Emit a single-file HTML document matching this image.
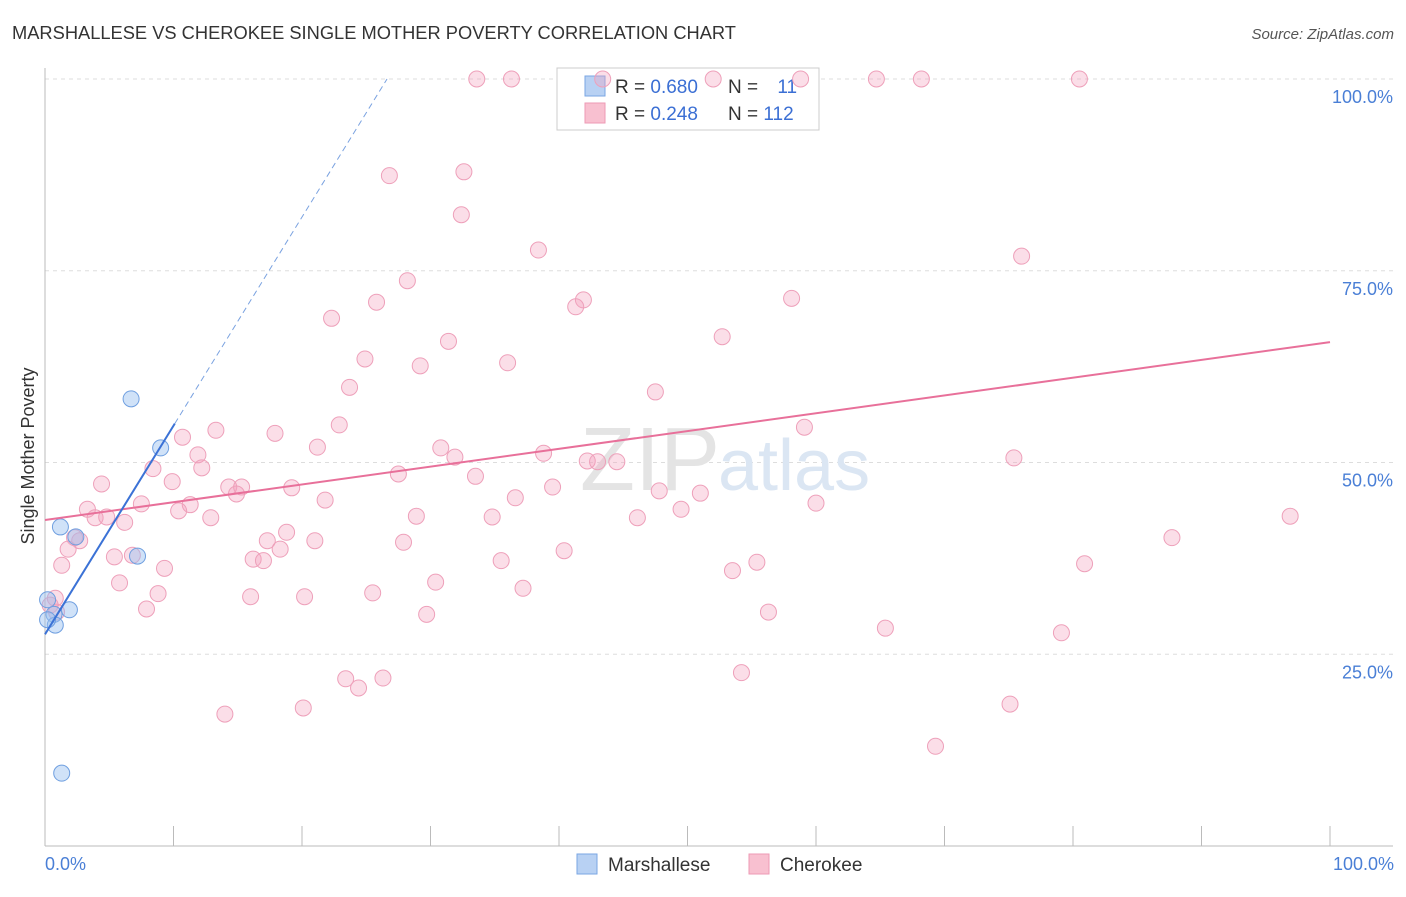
<!DOCTYPE html>
<html><head><meta charset="utf-8"><style>
body{margin:0;background:#fff;font-family:"Liberation Sans",sans-serif;}
svg text{font-family:"Liberation Sans",sans-serif;}
</style></head><body>
<svg id="chart" width="1406" height="892">
<text x="12" y="39" font-size="18.3" fill="#333">MARSHALLESE VS CHEROKEE SINGLE MOTHER POVERTY CORRELATION CHART</text>
<text x="1394" y="39" font-size="15" fill="#555" text-anchor="end" font-style="italic">Source: ZipAtlas.com</text>
<g id="grid"></g>
<text x="720" y="490" font-size="90" fill="#e4e4e4" text-anchor="end" font-family="Liberation Serif">ZIP</text>
<text x="718" y="490" font-size="72" fill="#dbe6f3">atlas</text>
<g>
<rect x="557" y="68" width="262" height="62" fill="#fff" stroke="#ccc"/>
<rect x="585" y="76" width="20" height="20" fill="#b8d1f3" stroke="#7aa6e3"/>
<rect x="585" y="103" width="20" height="20" fill="#f8c0d0" stroke="#ee9ab5"/>
<text x="615" y="93" font-size="19" fill="#333">R = <tspan fill="#3b6fd4">0.680</tspan></text>
<text x="728" y="93" font-size="19" fill="#333">N = <tspan fill="#3b6fd4" dx="14">11</tspan></text>
<text x="615" y="120" font-size="19" fill="#333">R = <tspan fill="#3b6fd4">0.248</tspan></text>
<text x="728" y="120" font-size="19" fill="#333">N = <tspan fill="#3b6fd4">112</tspan></text>
</g>
<g id="marks"></g>
<text transform="translate(34,456) rotate(-90)" font-size="18" fill="#333" text-anchor="middle">Single Mother Poverty</text>
<text x="45" y="870" font-size="18" fill="#4a7fd6">0.0%</text>
<text x="1394" y="870" font-size="18" fill="#4a7fd6" text-anchor="end">100.0%</text>
<g>
<rect x="577" y="854" width="20" height="20" fill="#b8d1f3" stroke="#7aa6e3"/>
<text x="608" y="871" font-size="19" fill="#333">Marshallese</text>
<rect x="749" y="854" width="20" height="20" fill="#f8c0d0" stroke="#ee9ab5"/>
<text x="780" y="871" font-size="19" fill="#333">Cherokee</text>
</g>
</svg>
<script>
const yTicks=[100,75,50,25];
const yTickLabels=["100.0%","75.0%","50.0%","25.0%"];
const xTicks=[0,10,20,30,40,50,60,70,80,90,100];
const cherokeeX=[33.6,36.3,43.4,52.0,58.8,64.7,68.2,80.5,26.8,32.6,32.4,38.4,76.0,28.2,41.9,41.3,25.8,58.1,22.3,31.4,52.7,24.9,29.2,36.0,23.7,47.5,22.9,13.3,10.7,17.9,21.2,30.8,31.9,38.8,59.1,8.4,11.9,12.2,9.9,4.4,14.3,15.3,14.9,19.2,21.8,27.5,33.5,42.2,43.0,44.5,75.4,39.5,36.6,47.8,51.0,60.0,7.5,11.3,10.4,3.3,3.9,4.8,6.2,12.9,28.9,34.8,46.1,49.5,96.9,2.7,2.3,1.8,5.4,6.8,9.3,1.3,16.2,17.0,17.3,18.8,18.3,21.0,27.9,35.5,40.4,53.5,55.4,80.9,87.7,5.8,8.8,7.9,16.0,20.2,25.5,30.4,37.2,29.7,56.3,65.4,79.1,0.8,0.4,0.9,23.4,24.4,26.3,54.2,75.1,14.0,20.1,69.3];
const cherokeeY=[100,100,100,100,100,100,100,100,87.4,87.9,82.3,77.7,76.9,73.7,71.2,70.3,70.9,71.4,68.8,65.8,66.4,63.5,62.6,63.0,59.8,59.2,54.9,54.2,53.3,53.8,52.0,51.9,50.7,51.2,54.6,49.2,51.0,49.3,47.5,47.2,46.8,46.8,45.9,46.7,45.1,48.5,48.2,50.2,50.1,50.1,50.6,46.8,45.4,46.3,46.0,44.7,44.6,44.5,43.7,43.9,42.8,42.9,42.2,42.8,43.0,42.9,42.8,43.9,43.0,39.8,40.2,38.7,37.7,37.9,36.2,36.6,37.4,37.2,39.8,40.9,38.7,39.8,39.6,37.2,38.5,35.9,37.0,36.8,40.2,34.3,32.9,30.9,32.5,32.5,33.0,34.4,33.6,30.2,30.5,28.4,27.8,32.3,31.4,30.5,21.8,20.6,21.9,22.6,18.5,17.2,18.0,13.0];
const marshX=[1.2,2.4,7.2,6.7,9.0,1.9,0.7,0.8,0.2,0.2,1.3];
const marshY=[41.6,40.3,37.8,58.3,51.9,30.8,30.2,28.8,32.1,29.5,9.5];
const pinkTrend=[42.5,65.7];
const blueTrend=[27.6,2.72];
const NS="http://www.w3.org/2000/svg";
const sx=v=>45+v*12.85, sy=v=>846-v*7.67;
function mk(t,a,parent){const e=document.createElementNS(NS,t);for(const k in a)e.setAttribute(k,a[k]);parent.appendChild(e);return e;}
const grid=document.getElementById('grid'), marks=document.getElementById('marks');
yTicks.forEach((t,i)=>{
 const l=mk('line',{x1:45,x2:1393,y1:sy(t),y2:sy(t),stroke:'#ddd','stroke-dasharray':'4,4'},grid);
 
 
 const tx=mk('text',{x:1393,y:sy(t)+24,'font-size':18,fill:'#4a7fd6','text-anchor':'end'},grid);
 tx.textContent=yTickLabels[i];
 
 
});
const ya=mk('line',{x1:45,x2:45,y1:68,y2:846,stroke:'#bbb'},grid);


const xa=mk('line',{x1:45,x2:1393,y1:846,y2:846,stroke:'#bbb'},grid);


xTicks.forEach(t=>{
 const l=mk('line',{x1:sx(t),x2:sx(t),y1:826,y2:846,stroke:'#bbb'},grid);
 
 
});
cherokeeX.forEach((x,i)=>{
 const c=mk('circle',{cx:sx(x),cy:sy(cherokeeY[i]),r:8,fill:'rgba(244,160,188,0.35)',stroke:'#eea0ba','stroke-width':1},marks);
 
 
});
marshX.forEach((x,i)=>{
 const c=mk('circle',{cx:sx(x),cy:sy(marshY[i]),r:8,fill:'rgba(150,190,240,0.45)',stroke:'#6f9fe0','stroke-width':1},marks);
 
 
});
const pl=mk('line',{x1:sx(0),y1:sy(pinkTrend[0]),x2:sx(100),y2:sy(pinkTrend[1]),stroke:'#e8709a','stroke-width':2},marks);


const bEnd=10.1, bTop=(100-blueTrend[0])/blueTrend[1];
const bl=mk('line',{x1:sx(0),y1:sy(blueTrend[0]),x2:sx(bEnd),y2:sy(blueTrend[0]+blueTrend[1]*bEnd),stroke:'#3b72d6','stroke-width':2},marks);


const bd=mk('line',{x1:sx(bEnd),y1:sy(blueTrend[0]+blueTrend[1]*bEnd),x2:sx(bTop),y2:sy(100),stroke:'#7aa2e0','stroke-width':1,'stroke-dasharray':'6,4'},marks);


</script>
</body></html>
